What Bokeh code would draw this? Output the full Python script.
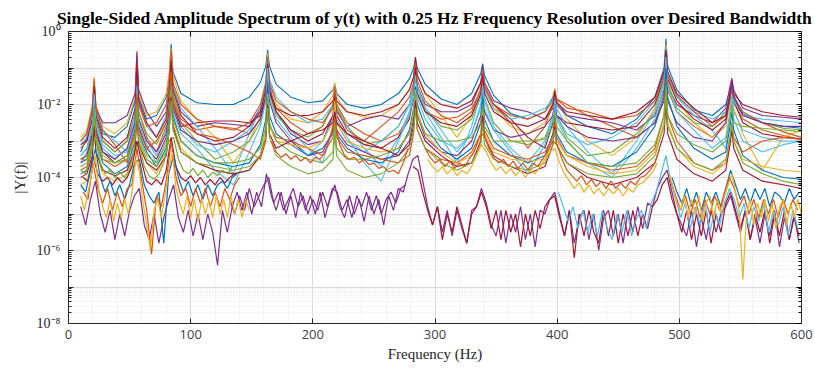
import numpy as np
from bokeh.plotting import figure
from bokeh.models import FixedTicker, LinearAxis, LogAxis
from bokeh.embed import file_html
from bokeh.resources import INLINE

# ---------------- data (log10 of |Y(f)|) ----------------
TITLE = "Single-Sided Amplitude Spectrum of y(t) with 0.25 Hz Frequency Resolution over Desired Bandwidth"

# frequency grid shared by the smooth response curves (Hz)
freq_smooth = [10, 15, 19.5, 21, 22.5, 28, 38, 48, 54.5, 56, 57.5, 64, 72, 80, 82.5, 84, 85.5, 92,
               105, 120, 135, 148, 157, 161.5, 163, 164.5, 170, 182, 196, 208, 216.5, 218, 219.5,
               228, 242, 256, 270, 279, 282.5, 284, 285.5, 292, 305, 318, 330, 337.5, 339, 340.5,
               348, 362, 376, 390, 396.5, 398, 399.5, 408, 425, 445, 465, 480, 487.5, 489, 490.5,
               498, 512, 527, 538, 541.5, 543, 544.5, 552, 568, 585, 600]

resp_a = [-3.3, -2.9, -2.2, -1.4, -2.2, -2.8, -2.9, -2.6, -1.9, -0.8, -1.8, -2.4, -2.3, -1.8, -1.2, -0.34, -1.1, -1.7,
          -1.95, -2.0, -2.0, -1.8, -1.4, -0.95, -0.5, -0.95, -1.45, -1.8, -1.95, -1.9, -1.6, -1.45, -1.7,
          -2.0, -2.1, -2.0, -1.7, -1.3, -1.0, -0.75, -1.0, -1.45, -1.85, -2.0, -1.7, -1.15, -0.88, -1.2,
          -1.75, -2.25, -2.4, -2.2, -1.8, -1.6, -1.9, -2.3, -2.6, -2.8, -2.4, -1.8, -1.0, -0.2, -0.95,
          -1.6, -2.15, -2.3, -2.0, -1.6, -1.4, -1.75, -2.25, -2.5, -2.6, -2.65]
resp_b = [-3.2, -3.0, -2.4, -1.6, -2.4, -3.0, -3.3, -3.0, -2.3, -1.2, -2.2, -2.9, -3.3, -2.6, -1.8, -0.9, -1.8, -2.4,
          -2.7, -2.6, -2.65, -2.8, -2.4, -1.7, -0.9, -1.6, -2.1, -2.5, -2.8, -2.6, -2.0, -1.6, -2.0,
          -2.5, -2.8, -3.0, -2.8, -2.3, -1.8, -1.1, -1.7, -2.2, -2.4, -2.35, -2.1, -1.6, -1.2, -1.6,
          -2.0, -2.3, -2.4, -2.2, -1.9, -1.7, -1.85, -2.0, -2.3, -2.6, -2.9, -2.5, -1.7, -0.9, -1.6,
          -2.2, -2.6, -2.9, -2.5, -1.9, -1.6, -1.95, -2.4, -2.7, -2.85, -2.95]
resp_c = [-2.9, -2.7, -2.0, -1.25, -2.0, -2.6, -2.8, -2.5, -1.8, -0.6, -1.7, -2.3, -2.2, -1.7, -1.1, -0.45, -1.2, -1.9,
          -2.4, -2.9, -3.6, -3.0, -2.3, -1.5, -0.6, -1.4, -2.0, -2.4, -2.5, -2.2, -1.75, -1.4, -1.8,
          -2.2, -2.35, -2.3, -2.0, -1.6, -1.2, -0.8, -1.2, -1.7, -2.3, -2.9, -2.3, -1.5, -1.0, -1.5,
          -2.1, -2.6, -2.8, -2.5, -1.9, -1.55, -1.9, -2.4, -3.0, -3.4, -2.9, -2.1, -1.2, -0.35, -1.2,
          -1.9, -2.5, -2.9, -2.6, -2.0, -1.7, -2.1, -2.8, -3.8, -2.9, -2.7]
resp_d = [-3.0, -2.8, -2.2, -1.4, -2.1, -2.5, -2.5, -2.3, -1.7, -0.54, -1.6, -2.2, -2.6, -2.2, -1.5, -0.7, -1.5, -2.2,
          -2.6, -2.5, -2.55, -2.6, -2.1, -1.5, -0.85, -1.5, -2.2, -2.8, -3.1, -3.0, -2.3, -1.7, -2.2,
          -2.6, -2.4, -2.3, -2.4, -2.0, -1.5, -0.9, -1.5, -2.0, -2.2, -2.2, -2.0, -1.4, -0.95, -1.4,
          -1.9, -2.1, -2.2, -2.4, -2.1, -1.8, -2.0, -2.3, -2.4, -2.5, -2.7, -2.3, -1.6, -0.8, -1.5,
          -2.0, -2.3, -2.5, -2.1, -1.5, -1.28, -1.6, -2.1, -2.3, -2.35, -2.4]
resp_e = [-3.4, -3.2, -2.6, -1.7, -2.5, -3.0, -3.3, -3.0, -2.3, -1.1, -2.2, -2.8, -3.1, -2.5, -1.8, -0.8, -1.7, -2.5,
          -3.0, -3.5, -3.3, -3.0, -2.5, -1.8, -0.9, -1.7, -2.3, -2.7, -2.9, -2.6, -2.0, -1.6, -2.0,
          -2.6, -3.1, -3.0, -2.6, -2.0, -1.5, -0.95, -1.5, -2.1, -2.6, -2.7, -2.4, -1.8, -1.3, -1.8,
          -2.5, -3.0, -3.1, -2.9, -2.3, -1.9, -2.3, -2.9, -3.4, -3.3, -2.8, -2.2, -1.4, -0.6, -1.4,
          -2.1, -2.5, -2.6, -2.2, -1.7, -1.5, -1.8, -2.3, -2.5, -2.65, -2.7]
resp_f = [-3.6, -3.3, -2.7, -1.8, -2.6, -3.2, -3.5, -3.2, -2.4, -1.4, -2.4, -3.0, -3.4, -2.7, -1.9, -1.0, -1.9, -2.6,
          -3.1, -3.3, -3.0, -2.7, -2.2, -1.6, -0.8, -1.6, -2.2, -2.7, -3.2, -3.6, -2.6, -1.9, -2.5,
          -3.0, -3.3, -3.0, -2.6, -2.0, -1.5, -0.9, -1.5, -2.1, -2.7, -3.3, -2.8, -2.0, -1.3, -1.9,
          -2.6, -3.2, -3.6, -3.0, -2.3, -1.9, -2.3, -2.8, -3.1, -2.9, -2.5, -1.9, -1.2, -0.45, -1.2,
          -1.8, -2.3, -2.7, -3.2, -2.4, -1.9, -2.4, -3.0, -3.3, -3.1, -3.0]
resp_g = [-3.5, -3.4, -2.8, -1.9, -2.7, -3.3, -3.6, -3.4, -2.7, -1.6, -2.6, -3.2, -3.5, -2.9, -2.1, -1.2, -2.0, -2.6,
          -2.5, -2.45, -2.45, -2.5, -2.3, -1.8, -1.1, -1.7, -2.1, -2.3, -2.3, -2.2, -1.9, -1.7, -1.9,
          -2.2, -2.3, -2.2, -2.0, -1.6, -1.25, -0.7, -1.2, -1.7, -2.0, -2.1, -1.9, -1.4, -1.1, -1.5,
          -2.0, -2.4, -2.9, -3.2, -2.5, -2.0, -2.3, -2.5, -2.6, -2.7, -2.6, -2.0, -1.3, -0.7, -1.3,
          -1.9, -2.4, -2.7, -2.4, -1.8, -1.5, -1.9, -2.5, -2.8, -2.9, -2.95]
resp_h = [-3.9, -3.8, -3.2, -2.2, -3.0, -3.6, -3.9, -3.7, -3.0, -1.8, -2.8, -3.3, -3.7, -3.2, -2.4, -1.4, -2.3, -3.0,
          -3.4, -3.6, -3.7, -3.6, -3.1, -2.4, -1.4, -2.3, -2.8, -3.1, -3.4, -3.2, -2.8, -2.2, -2.8,
          -3.2, -3.5, -3.6, -3.3, -2.7, -2.1, -1.5, -2.0, -2.6, -3.2, -3.5, -3.2, -2.5, -1.8, -2.4,
          -3.0, -3.4, -3.6, -3.4, -2.8, -2.3, -2.8, -3.3, -3.6, -3.7, -3.3, -2.6, -1.8, -1.0, -1.8,
          -2.6, -3.2, -3.5, -3.3, -2.6, -2.2, -2.7, -3.4, -3.8, -4.0, -4.05]
resp_i = [-3.8, -3.7, -3.1, -2.3, -3.0, -3.5, -3.7, -3.5, -2.8, -1.7, -2.7, -3.2, -3.0, -2.5, -1.9, -1.1, -1.9, -2.5,
          -2.8, -2.9, -3.1, -3.3, -3.5, -3.0, -2.0, -2.6, -2.9, -3.0, -3.2, -3.4, -2.9, -2.3, -2.9,
          -3.3, -3.4, -3.5, -3.6, -3.4, -2.8, -2.0, -2.7, -3.2, -3.5, -3.6, -3.3, -2.8, -2.1, -2.7,
          -3.2, -3.4, -3.5, -3.3, -2.9, -2.4, -2.9, -3.4, -3.6, -3.8, -3.7, -3.2, -2.3, -1.3, -2.3,
          -3.0, -3.6, -3.8, -3.6, -2.9, -2.5, -2.9, -3.3, -3.0, -2.9, -2.95]
resp_j = [-4.2, -4.1, -3.5, -2.5, -3.3, -3.9, -4.1, -3.9, -3.2, -2.2, -3.1, -3.6, -3.9, -3.4, -2.6, -1.6, -2.5, -3.2,
          -3.6, -3.8, -3.9, -3.8, -3.4, -2.7, -1.7, -2.6, -3.0, -3.1, -3.2, -3.0, -2.5, -1.9, -2.5,
          -3.0, -3.2, -3.3, -3.2, -2.8, -2.2, -1.6, -2.2, -2.8, -3.3, -3.6, -3.4, -2.9, -2.2, -2.8,
          -3.3, -3.5, -3.55, -3.5, -3.0, -2.6, -3.0, -3.4, -3.7, -3.9, -3.8, -3.3, -2.5, -1.6, -2.5,
          -3.2, -3.7, -3.9, -3.6, -3.0, -2.6, -3.0, -3.5, -3.7, -3.8, -3.85]
resp_k = [-3.7, -3.6, -3.1, -2.3, -3.0, -3.5, -3.6, -3.4, -2.9, -2.0, -2.9, -3.4, -3.6, -3.1, -2.5, -1.5, -2.4, -3.0,
          -3.4, -3.6, -3.6, -3.5, -3.2, -2.6, -1.8, -2.5, -3.0, -3.3, -3.5, -3.6, -3.3, -2.5, -3.2,
          -3.5, -3.5, -3.4, -3.2, -2.8, -2.3, -1.7, -2.3, -2.8, -3.0, -3.0, -2.9, -2.5, -2.0, -2.6,
          -3.0, -3.0, -3.0, -2.95, -2.6, -2.2, -2.6, -3.0, -3.6, -3.7, -3.6, -3.1, -2.3, -1.5, -2.3,
          -2.8, -3.1, -3.3, -3.0, -2.4, -2.0, -2.5, -2.6, -2.65, -2.7, -2.75]
resp_l = [-4.0, -3.9, -3.4, -2.6, -3.3, -3.8, -3.95, -3.8, -3.2, -2.3, -3.1, -3.6, -3.8, -3.4, -2.7, -1.8, -2.6, -3.3,
          -3.6, -3.8, -3.9, -3.8, -3.4, -2.9, -2.0, -2.8, -3.2, -3.0, -2.8, -2.7, -2.5, -2.2, -2.5,
          -2.8, -3.0, -3.2, -3.4, -3.1, -2.6, -1.9, -2.5, -3.0, -3.4, -3.7, -3.6, -3.0, -2.3, -2.9,
          -3.4, -3.7, -3.9, -3.7, -3.1, -2.6, -3.1, -3.6, -4.0, -4.2, -4.0, -3.6, -2.8, -2.0, -2.8,
          -3.5, -3.9, -4.1, -3.8, -3.1, -2.7, -3.2, -3.8, -4.1, -4.2, -4.3]
resp_m = [-3.1, -2.9, -2.3, -1.5, -2.2, -2.7, -3.0, -3.3, -2.2, -1.0, -2.0, -2.6, -2.9, -2.3, -1.6, -0.6, -1.5, -2.1,
          -2.6, -3.2, -3.9, -2.8, -2.1, -1.4, -0.7, -1.3, -1.8, -2.2, -2.5, -2.4, -2.0, -1.8, -2.1,
          -2.6, -3.2, -3.7, -2.9, -2.2, -1.6, -1.0, -1.6, -2.2, -2.9, -3.6, -2.6, -1.7, -1.1, -1.6,
          -2.1, -2.4, -2.3, -2.1, -1.9, -1.75, -2.1, -2.6, -3.3, -3.9, -3.0, -2.2, -1.3, -0.5, -1.2,
          -1.8, -2.2, -2.4, -2.2, -1.8, -1.5, -1.9, -2.3, -2.4, -2.45, -2.5]
resp_n = [-3.0, -2.8, -2.1, -1.3, -2.1, -2.7, -3.1, -3.6, -2.5, -0.9, -2.0, -2.6, -2.5, -2.0, -1.4, -0.5, -1.4, -2.0,
          -2.4, -2.6, -2.7, -2.5, -2.0, -1.4, -0.7, -1.4, -1.9, -2.2, -2.4, -2.5, -2.1, -1.5, -2.1,
          -2.7, -3.0, -2.6, -2.2, -1.8, -1.4, -0.85, -1.35, -1.9, -2.3, -2.5, -2.2, -1.6, -1.05, -1.5,
          -2.0, -2.5, -3.2, -2.6, -2.0, -1.6, -1.85, -2.1, -2.2, -2.4, -2.3, -1.9, -1.2, -0.6, -1.2,
          -1.75, -2.2, -2.6, -2.3, -1.75, -1.45, -1.8, -2.2, -2.5, -2.75, -2.9]
resp_o = [-3.6, -3.5, -2.9, -2.0, -2.8, -3.3, -3.5, -3.2, -2.5, -1.4, -2.4, -3.0, -3.3, -2.8, -2.2, -1.3, -2.1, -2.7,
          -3.0, -3.1, -3.0, -2.8, -2.4, -1.9, -1.2, -1.9, -2.5, -3.0, -3.4, -3.3, -2.7, -2.1, -2.7,
          -3.1, -3.3, -3.5, -3.4, -3.0, -2.4, -1.7, -2.3, -2.9, -3.3, -3.4, -3.0, -2.3, -1.6, -2.2,
          -2.7, -2.9, -2.8, -2.6, -2.3, -2.0, -2.3, -2.6, -2.9, -3.0, -2.9, -2.5, -1.9, -1.2, -1.9,
          -2.5, -2.9, -3.0, -2.5, -1.8, -1.4, -1.8, -2.3, -2.5, -2.6, -2.6]
resp_p = [-3.5, -3.5, -3.0, -2.1, -2.9, -3.4, -3.6, -3.5, -3.0, -2.1, -3.0, -3.5, -3.7, -3.3, -2.7, -1.9, -2.7, -3.3,
          -3.6, -3.7, -3.8, -3.7, -3.4, -2.9, -2.1, -2.9, -3.4, -3.7, -3.9, -3.8, -3.5, -2.8, -3.4,
          -3.8, -4.0, -3.9, -3.6, -3.2, -2.7, -2.1, -2.7, -3.2, -3.6, -3.8, -3.6, -3.1, -2.5, -3.1,
          -3.5, -3.7, -3.8, -3.6, -3.1, -2.7, -3.1, -3.6, -3.9, -4.0, -3.9, -3.4, -2.6, -1.8, -2.6,
          -3.2, -3.6, -3.8, -3.5, -2.9, -2.5, -3.0, -3.6, -3.9, -4.1, -4.2]
resp_q = [-3.4, -3.2, -2.6, -1.7, -2.5, -3.1, -3.4, -3.3, -2.6, -1.5, -2.5, -3.1, -3.6, -3.0, -2.3, -1.3, -2.2, -2.8,
          -3.2, -3.8, -4.2, -3.3, -2.6, -1.9, -1.0, -1.8, -2.4, -2.9, -3.4, -3.0, -2.4, -2.0, -2.4,
          -2.9, -3.6, -4.1, -3.0, -2.3, -1.8, -1.2, -1.8, -2.4, -3.0, -3.2, -2.8, -2.1, -1.5, -2.1,
          -2.7, -3.3, -3.9, -3.1, -2.4, -2.0, -2.4, -3.0, -3.6, -4.0, -3.2, -2.4, -1.5, -0.7, -1.5,
          -2.2, -2.7, -3.2, -2.9, -2.2, -1.8, -2.2, -2.7, -2.9, -3.0, -3.0]
resp_r = [-3.1, -3.0, -2.4, -1.5, -2.3, -2.9, -3.2, -2.9, -2.1, -0.9, -1.9, -2.5, -2.9, -2.4, -1.7, -0.8, -1.6, -2.3,
          -2.8, -3.0, -2.9, -2.6, -2.2, -1.6, -0.9, -1.6, -2.2, -2.7, -3.0, -2.8, -2.3, -1.8, -2.3,
          -2.8, -3.1, -3.2, -2.9, -2.4, -1.8, -1.0, -1.7, -2.2, -2.5, -2.6, -2.3, -1.7, -1.2, -1.7,
          -2.2, -2.5, -2.6, -2.4, -2.0, -1.65, -1.95, -2.2, -2.3, -2.4, -2.2, -1.8, -1.1, -0.5, -1.1,
          -1.7, -2.1, -2.5, -2.3, -1.7, -1.35, -1.7, -2.0, -2.2, -2.3, -2.35]

# noisy records: log10 values on a regular frequency step
noise_purple = [-4.8, -5.3, -4.6, -4.1, -5.0, -5.5, -4.9, -5.7, -5.0, -5.6, -4.9, -4.5, -4.3, -5.3, -5.7, -5.0,
                -5.8, -5.1, -4.6, -4.2, -5.1, -5.5, -4.9, -5.6, -5.0, -5.7, -5.0, -5.5, -6.4, -4.9, -5.5, -4.8,
                -4.4, -4.9, -4.4, -5.0, -4.4, -4.8, -3.9, -4.5, -4.9, -4.4, -5.0, -4.5, -5.1, -4.4, -4.9, -4.5,
                -5.0, -4.4, -5.1, -4.6, -4.2, -4.8, -5.1, -4.5, -5.0, -4.6, -5.2, -4.5, -5.0, -4.6, -5.3, -4.5,
                -4.9, -4.3, -4.4, -3.9, -3.5, -3.4, -4.1, -4.8, -5.3, -4.8, -5.5, -4.9, -5.6, -4.9, -5.4, -5.8,
                -4.9, -4.8, -4.3, -4.7, -5.3, -5.6, -4.9, -5.8, -5.0, -5.5, -4.8, -5.7, -5.0, -5.9, -4.9, -5.0,
                -4.6, -4.4, -5.0, -5.6, -4.9, -5.8, -5.1, -4.9, -5.7, -5.0, -6.0, -5.1, -4.9, -5.6, -5.0, -5.8,
                -4.9, -5.5, -4.8, -5.4, -4.7, -4.8, -4.3, -4.0, -3.8, -4.4, -5.0, -5.3, -5.6, -4.9, -5.9, -5.1,
                -5.7, -4.9, -5.5, -5.0, -4.8, -4.5, -5.0, -5.5, -4.9, -5.7, -5.1, -5.8, -5.0, -5.6, -4.9, -5.9,
                -5.1, -5.7, -5.0, -5.8]
noise_purple_mid = [-4.6, -5.0, -4.5, -4.9, -4.3, -4.8, -4.5, -4.2, -4.0, -4.7, -4.4, -4.9, -4.6, -4.3, -4.8,
                    -4.5, -5.0, -4.6, -4.9, -4.4, -4.8, -4.3, -4.4, -4.9, -4.6, -5.1, -4.5, -4.8, -4.4, -4.9,
                    -4.5, -5.0, -4.6, -4.4, -4.7, -4.3, -4.2]
noise_darkred = [-3.7, -3.8, -4.4, -4.9, -5.3, -4.8, -5.7, -5.0, -5.5, -4.8, -5.3, -5.8, -5.0, -4.8, -4.4, -4.8,
                 -5.4, -4.9, -5.7, -4.9, -5.5, -5.0, -5.9, -5.0, -5.6, -4.9, -5.4, -4.8, -4.6, -4.5, -5.1, -5.6,
                 -4.9, -6.2, -5.0, -5.6, -4.9, -5.5, -5.8, -4.9, -5.6, -4.9, -5.8, -5.0, -5.6, -4.9, -5.6, -5.0,
                 -5.4, -4.8, -4.6, -4.2, -4.0, -4.6, -5.0, -5.5, -4.9, -5.7, -5.0, -5.6, -4.9, -5.8, -5.0, -5.5,
                 -4.7, -4.4, -4.9, -5.4, -4.9, -5.7, -5.0, -5.5, -4.9, -5.8, -5.0, -5.6, -4.9, -5.7, -5.1, -5.6]
noise_yellow_low = [-4.5, -4.9, -4.4, -3.9, -3.4, -4.4, -4.8, -5.1, -4.6, -5.2, -4.7, -5.1, -4.6, -5.0, -4.4,
                    -3.5, -3.8, -4.7, -5.3, -6.0, -4.9, -4.6, -5.1, -4.5, -3.8, -3.3, -4.3, -4.7, -5.0, -4.5,
                    -5.1, -4.6, -5.2, -4.6, -5.0, -4.6, -5.1, -4.5, -5.0, -4.6, -5.1, -4.5, -5.0, -4.6, -5.1,
                    -4.6, -4.9]
noise_yellow_high = [-3.9, -4.3, -4.7, -4.9, -4.5, -5.1, -4.6, -5.0, -4.5, -5.2, -4.7, -4.5, -5.1, -4.6, -5.0,
                     -4.5, -4.2, -3.9, -4.4, -4.9, -6.8, -5.0, -4.6, -5.3, -4.7, -5.1, -4.6, -5.2, -4.7, -5.4,
                     -4.8, -4.6, -5.3, -4.7, -5.1, -4.6, -5.0]
noise_lightblue = [-4.4, -4.8, -5.2, -4.8, -5.4, -4.9, -5.5, -5.0, -5.6, -4.9, -5.4, -5.7, -5.0, -5.5, -4.9,
                   -5.6, -5.1, -4.9, -5.4, -4.7, -4.4, -3.9, -3.4, -4.1, -4.6, -5.1, -4.7, -5.4, -4.8, -5.3,
                   -4.7, -5.5, -4.9, -5.3, -4.7, -4.3, -4.6, -5.1, -4.7, -5.4, -4.8, -5.2, -4.7, -5.5, -4.9,
                   -5.3, -4.8, -5.6, -4.9, -5.4]
noise_orange_low = [-4.4, -4.6, -3.6, -4.3, -4.7, -4.3, -4.9, -4.4, -4.8, -4.3, -4.2, -3.2, -4.1, -4.9, -6.1,
                    -4.5, -4.8, -4.1, -3.0, -4.0, -4.5, -4.3, -4.8, -4.3, -4.7, -4.3, -4.8, -4.4, -4.8, -4.3,
                    -4.6, -4.2, -4.0]
noise_orange_high = [-4.1, -4.5, -4.9, -4.5, -5.0, -4.6, -5.1, -4.6, -5.0, -4.5, -4.9, -4.4, -4.0, -4.3, -4.8,
                     -4.5, -5.0, -4.6, -5.1, -4.6, -5.0, -4.6, -5.1, -4.6, -5.0, -4.6, -4.9]
noise_blue_low = [-4.2, -4.4, -3.8, -3.2, -4.0, -4.4, -4.1, -4.5, -4.2, -4.6, -4.2, -3.6, -3.5, -4.2, -4.5,
                  -4.7, -4.4, -5.8, -3.9, -3.4, -4.0, -4.4, -4.1, -4.5, -4.2, -4.6, -4.2, -4.5, -4.2, -4.1,
                  -4.3, -4.0, -3.9]
noise_blue_high = [-4.0, -4.4, -4.7, -4.3, -4.8, -4.4, -4.9, -4.4, -4.7, -4.4, -4.8, -4.3, -3.8, -4.2, -4.6,
                   -4.3, -4.7, -4.3, -4.6, -4.3, -4.8, -4.4, -4.5, -4.7, -4.3, -4.6, -4.4]
noise_green_low = [-3.8, -3.9, -3.4, -2.9, -3.6, -3.9, -3.8, -4.0, -3.85, -4.0, -3.8, -3.2, -3.1, -3.7, -3.95,
                   -4.05, -3.9, -3.6, -3.0, -2.9, -3.5, -3.8, -3.9, -3.75, -3.95, -3.8, -4.0, -3.85, -3.95,
                   -3.8, -3.9, -3.7]
noise_darkred_low = [-4.0, -4.1, -3.4, -3.9, -4.1, -4.0, -4.2, -4.0, -4.15, -4.0, -3.7, -3.0, -3.6, -4.1, -4.2,
                     -4.05, -4.2, -3.8, -2.9, -3.7, -4.0, -4.1, -3.95, -4.15, -4.0, -4.2, -4.05, -4.2, -4.0,
                     -4.15, -4.0, -3.9]
noise_orange_mid = [-3.0, -3.3, -3.45, -3.35, -3.5, -3.4, -3.55, -3.45, -3.6, -3.45, -3.5, -3.3, -2.9, -2.4,
                    -3.1, -3.4, -3.5, -3.45, -3.6, -3.5, -3.65, -3.6, -3.75, -3.7, -3.85, -3.8, -3.9, -3.6, -3.2]
noise_orange_hi_mid = [-3.2, -3.45, -3.6, -3.5, -3.7, -3.55, -3.75, -3.6, -3.7, -3.5, -3.3, -2.9, -2.8, -3.2,
                       -3.45, -3.6, -3.5, -3.7, -3.55, -3.75, -3.6, -3.8, -3.6, -3.7, -3.5, -3.3, -3.0, -3.1,
                       -3.5, -3.8, -3.95, -4.1, -3.95, -4.2, -4.05, -4.25, -4.1, -4.3, -4.1, -4.3, -4.15, -4.3,
                       -4.1, -4.2, -4.0, -3.95, -3.8, -3.6, -3.2]
noise_yellow_mid = [-3.5, -3.7, -3.85, -3.7, -3.9, -3.75, -3.95, -3.8, -3.9, -3.7, -3.4, -3.1, -3.3, -3.6, -3.8,
                    -3.7, -3.9, -3.75, -3.95, -3.8, -4.0, -3.8, -3.9, -3.7, -3.5, -3.3, -3.2, -3.6, -3.9, -4.1,
                    -4.3, -4.15, -4.4, -4.2, -4.45, -4.3, -4.5, -4.3, -4.45, -4.3, -4.5, -4.3, -4.4, -4.2,
                    -4.15, -4.0, -3.85, -3.6]

x_ticks = [0, 100, 200, 300, 400, 500, 600]
y_tick_labels = {1e0: "10\u2070", 1e-2: "10\u207b\u00b2", 1e-4: "10\u207b\u2074",
                 1e-6: "10\u207b\u2076", 1e-8: "10\u207b\u2078"}

BLUE, ORANGE, YELLOW, PURPLE, GREEN, LBLUE, DRED = (
    "#0072BD", "#D95319", "#EDB120", "#7E2F8E", "#77AC30", "#4DBEEE", "#A2142F")

smooth = [(resp_a, BLUE), (resp_b, ORANGE), (resp_c, YELLOW), (resp_d, PURPLE), (resp_e, GREEN),
          (resp_f, LBLUE), (resp_g, DRED), (resp_m, LBLUE), (resp_n, ORANGE), (resp_r, DRED),
          (resp_o, PURPLE), (resp_q, LBLUE), (resp_h, BLUE), (resp_i, ORANGE), (resp_j, YELLOW),
          (resp_k, GREEN), (resp_l, DRED), (resp_p, GREEN)]
# (start Hz, step Hz, values, colour)
noisy = [(10, 4, noise_green_low, GREEN), (12, 4, noise_darkred_low, DRED),
         (166, 4, noise_orange_mid, ORANGE), (292, 4, noise_orange_hi_mid, ORANGE),
         (294, 4, noise_yellow_mid, YELLOW),
         (10, 4, noise_purple, PURPLE), (132, 4, noise_purple_mid, PURPLE),
         (282, 4, noise_darkred, DRED), (401, 4, noise_lightblue, LBLUE),
         (10, 4, noise_blue_low, BLUE), (494, 4, noise_blue_high, BLUE),
         (12, 4, noise_orange_low, ORANGE), (493, 4, noise_orange_high, ORANGE),
         (10, 3, noise_yellow_low, YELLOW), (492, 3, noise_yellow_high, YELLOW)]

# ---------------- figure ----------------
p = figure(width=815, height=370, x_range=(0, 600), y_range=(1e-8, 1), y_axis_type="log",
           title=TITLE, output_backend="svg", toolbar_location=None,
           min_border_left=68, min_border_right=14, min_border_top=31, min_border_bottom=47)
p.title.text_font = "Liberation Serif"
p.title.text_font_size = "17.5px"
p.title.text_font_style = "bold"
p.title.text_color = "#000000"
p.title.align = "center"
p.title.standoff = 0
p.title.offset = -8
p.background_fill_color = "white"
p.border_fill_color = "white"
p.outline_line_color = "#262626"
p.outline_line_width = 1

decades = [10.0 ** e for e in range(-8, 1)]
minor_y = [k * 10.0 ** e for e in range(-8, 0) for k in range(2, 10)]
x_minor = list(range(0, 601, 20))

fx = np.array(freq_smooth, dtype=float)
for vals, col in smooth:
    p.line(fx, 10.0 ** np.array(vals), line_color=col, line_width=1.1)
for start, step, vals, col in noisy:
    xs = start + step * np.arange(len(vals))
    p.line(xs, 10.0 ** np.array(vals), line_color=col, line_width=1.2)

# axes
xt = FixedTicker(ticks=x_ticks, minor_ticks=x_minor)
yt = FixedTicker(ticks=decades, minor_ticks=minor_y)

xa = p.xaxis[0]
xa.ticker = xt
xa.axis_label = "Frequency (Hz)"
ya = p.yaxis[0]
ya.ticker = yt
ya.axis_label = "|Y(f)|"
ya.major_label_overrides = {d: y_tick_labels.get(d, "") for d in decades}

for ax in (xa, ya):
    ax.axis_line_color = "#262626"
    ax.major_tick_in = 5
    ax.major_tick_out = 0
    ax.minor_tick_in = 3
    ax.minor_tick_out = 0
    ax.major_tick_line_color = "#262626"
    ax.minor_tick_line_color = "#262626"
    ax.axis_label_text_font = "Liberation Serif"
    ax.axis_label_text_font_style = "normal"
    ax.axis_label_text_font_size = "15px"
    ax.axis_label_text_color = "#262626"
xa.minor_tick_line_color = None
xa.major_label_text_font = "Open Sans"
xa.major_label_text_font_size = "13px"
xa.major_label_text_color = "#404040"
xa.major_label_standoff = 6
xa.axis_label_standoff = 4
ya.major_label_text_font = "Liberation Serif"
ya.major_label_text_font_size = "14px"
ya.major_label_text_color = "#262626"
ya.major_label_standoff = 8
ya.axis_label_standoff = 6

# mirrored ticks on top and right (no labels)
top = LinearAxis(ticker=xt, major_label_text_font_size="1px", major_label_text_color=None,
                 major_tick_in=5, major_tick_out=0, minor_tick_line_color=None,
                 axis_line_color="#262626", major_label_standoff=0)
right = LogAxis(ticker=yt, major_label_text_font_size="1px", major_label_text_color=None,
                major_tick_in=5, major_tick_out=0, minor_tick_in=3, minor_tick_out=0,
                axis_line_color="#262626", major_label_standoff=0)
p.add_layout(top, "above")
p.add_layout(right, "right")

# grid
for g in (p.xgrid[0], p.ygrid[0]):
    g.grid_line_color = "#dadada"
    g.grid_line_width = 1
    g.minor_grid_line_color = "#e2e2e2"
    g.minor_grid_line_dash = "1 2"
p.xgrid[0].ticker = xt
p.ygrid[0].ticker = yt

open("out.html", "w").write(file_html(p, INLINE))
